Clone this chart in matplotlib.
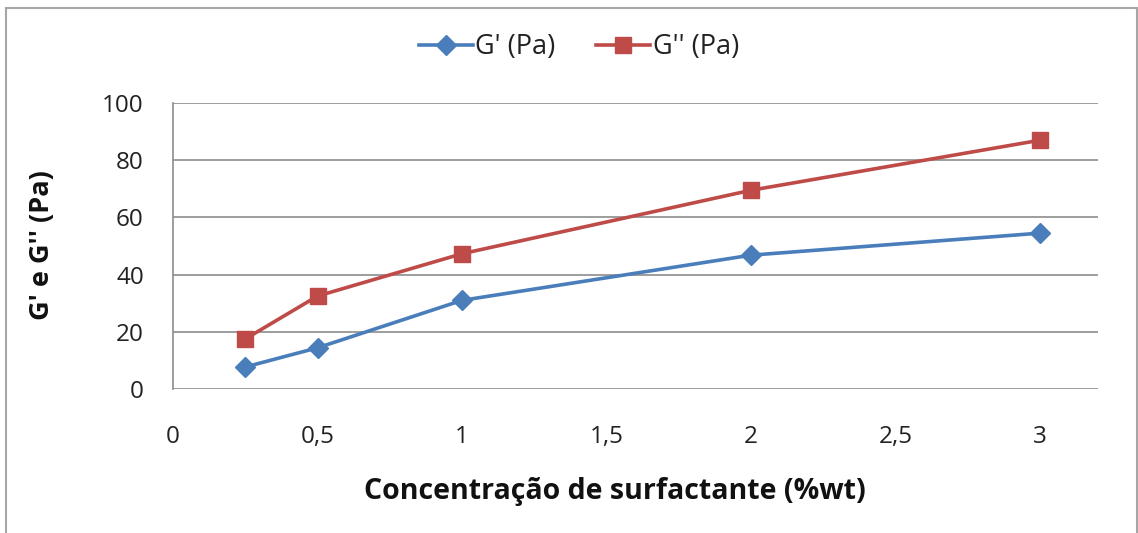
import matplotlib
matplotlib.use("Agg")
import matplotlib.pyplot as plt
from matplotlib.patches import Rectangle
from matplotlib.ticker import FixedLocator, FuncFormatter

# Surfactant concentration (%wt) and moduli (Pa)
concentration = [0.25, 0.5, 1.0, 2.0, 3.0]
g_storage = [7.7, 14.4, 31.0, 46.8, 54.5]
g_loss = [17.5, 32.5, 47.3, 69.5, 87.0]
x_ticks = [0, 0.5, 1, 1.5, 2, 2.5, 3]
y_ticks = [0, 20, 40, 60, 80, 100]

plt.rcParams["font.family"] = ["Open Sans", "DejaVu Sans"]

W, H = 1138, 533
fig = plt.figure(figsize=(W / 100, H / 100), dpi=100)
fig.patch.set_facecolor("white")

# outer chart frame
fig.patches.append(Rectangle((6 / W, -0.05), (1137 - 6) / W, (H - 8) / H + 0.05,
                             transform=fig.transFigure, fill=False,
                             edgecolor="#a6a6a6", linewidth=1.5))

ax = fig.add_axes([173 / W, (H - 389) / H, (1098 - 173) / W, (389 - 103) / H])
ax.set_xlim(0, 3.2)
ax.set_ylim(0, 100)

ax.yaxis.set_major_locator(FixedLocator(y_ticks))
ax.xaxis.set_major_locator(FixedLocator(x_ticks))
ax.xaxis.set_major_formatter(FuncFormatter(lambda v, p: f"{v:g}".replace(".", ",")))
ax.grid(axis="y", color="#8c8c8c", linewidth=1.2)
ax.set_axisbelow(True)
for s in ["top", "right", "bottom"]:
    ax.spines[s].set_visible(False)
ax.spines["left"].set_color("#8c8c8c")
ax.spines["left"].set_linewidth(1.2)
ax.tick_params(axis="both", length=0, labelsize=17.5, colors="#222222")
ax.tick_params(axis="x", pad=26)
ax.tick_params(axis="y", pad=21)

ax.plot(concentration, g_storage, color="#4a7ebb", linewidth=2.6, marker="D",
        markersize=10, markeredgecolor="#4a7ebb", label="G' (Pa)", clip_on=False)
ax.plot(concentration, g_loss, color="#be4b48", linewidth=2.6, marker="s",
        markersize=12, markeredgecolor="#be4b48", label="G'' (Pa)", clip_on=False)

leg = fig.legend(loc="center", bbox_to_anchor=(579 / W, (H - 47) / H), ncol=2,
                 frameon=False, fontsize=19.5, handlelength=2.0, handletextpad=0.1,
                 columnspacing=1.5)
for t in leg.get_texts():
    t.set_color("#222222")

fig.text(615 / W, (H - 492) / H, "Concentração de surfactante (%wt)",
         ha="center", va="center", fontsize=20.5, fontweight="bold", color="#111111")
fig.text(42 / W, (H - 245) / H, "G' e G'' (Pa)", ha="center", va="center",
         rotation=90, fontsize=19.5, fontweight="bold", color="#111111")

fig.savefig("out.png", dpi=100, facecolor="white")
